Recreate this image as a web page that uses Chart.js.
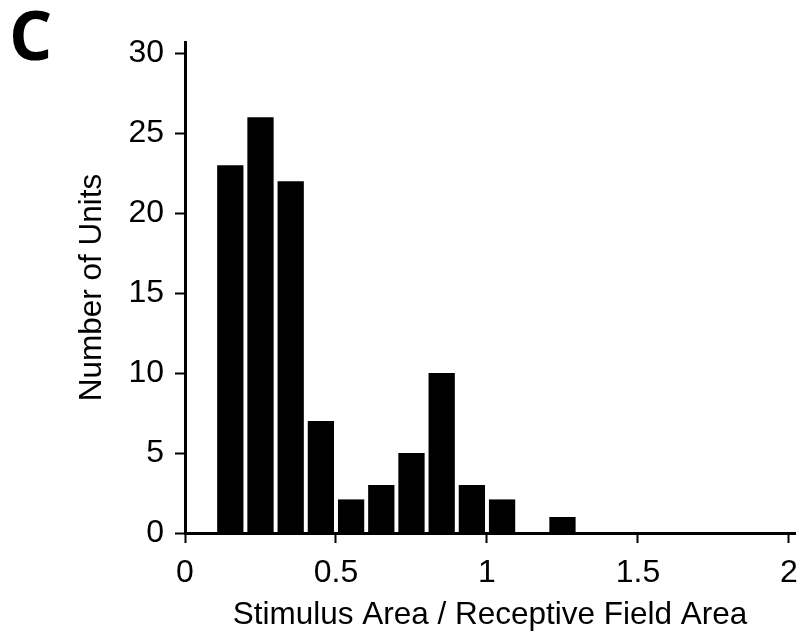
<!DOCTYPE html>
<html>
<head>
<meta charset="utf-8">
<script src="https://cdn.jsdelivr.net/npm/chart.js@4.4.0/dist/chart.umd.min.js"></script>
<style>
  html, body { margin: 0; padding: 0; background: #fff; }
  #wrap { width: 804px; height: 634px; }
</style>
</head>
<body>
<div id="wrap"><canvas id="histChart" width="804" height="634"></canvas></div>
<script>
// histogram bins (0.1 wide), centre of each bin
const binCenters = [0.15, 0.25, 0.35, 0.45, 0.55, 0.65, 0.75, 0.85, 0.95, 1.05,
                    1.15, 1.25, 1.35, 1.45, 1.55, 1.65, 1.75, 1.85, 1.95];
const unitCounts = [23, 26, 22, 7, 2.1, 3, 5, 10, 3, 2.1,
                    0, 1, 0, 0, 0, 0, 0, 0, 0];
const xTickValues = [0, 0.5, 1, 1.5, 2];
const yTickValues = [0, 5, 10, 15, 20, 25, 30];

const FONT = '"Liberation Sans", Arial, sans-serif';

const panelLetter = {
  id: 'panelLetter',
  afterDraw(chart) {
    const ctx = chart.ctx;
    ctx.save();
    ctx.font = 'bold 68px "Open Sans"';
    ctx.fillStyle = '#000';
    ctx.textBaseline = 'alphabetic';
    ctx.fillText('C', 9, 60);
    ctx.restore();
  }
};

const histCtx = document.getElementById('histChart');

const histChart = new Chart(histCtx, {
  type: 'bar',
  data: {
    datasets: [{
      data: binCenters.map((c, i) => ({ x: c, y: unitCounts[i] })),
      backgroundColor: '#000',
      borderWidth: 0,
      barPercentage: 0.87,
      categoryPercentage: 1.0,
    }],
  },
  plugins: [panelLetter],
  options: {
    responsive: false,
    animation: false,
    layout: { padding: { top: 42, right: 9, left: 0, bottom: 0 } },
    plugins: {
      legend: false,
      tooltip: { enabled: false },
    },
    scales: {
      x: {
        type: 'linear',
        min: 0,
        max: 2.02,
        offset: false,
        border: { color: '#000', width: 3 },
        grid: { offset: false, drawOnChartArea: false, tickLength: 10, tickWidth: 2, tickColor: '#000' },
        afterBuildTicks: s => { s.ticks = xTickValues.map(v => ({ value: v })); },
        ticks: {
          padding: 11, color: '#000', maxRotation: 0, autoSkip: false,
          font: { family: FONT, size: 32 },
          callback: v => String(v),
        },
        title: {
          display: true,
          text: 'Stimulus Area / Receptive Field Area',
          color: '#000',
          font: { family: FONT, size: 31.5, lineHeight: 1.2 },
          padding: { top: 0, bottom: 0 },
        },
        afterFit: s => { s.height = 101; s.paddingLeft = 0; s.paddingRight = 0; },
      },
      y: {
        min: 0,
        max: 30.7,
        border: { color: '#000', width: 3 },
        grid: { drawOnChartArea: false, tickLength: 10, tickWidth: 2, tickColor: '#000' },
        afterBuildTicks: s => { s.ticks = yTickValues.map(v => ({ value: v })); },
        ticks: { padding: 11, color: '#000', font: { family: FONT, size: 32 } },
        title: {
          display: true,
          text: 'Number of Units',
          color: '#000',
          font: { family: FONT, size: 31.5, lineHeight: 1.2 },
          padding: { top: 73, bottom: 0 },
        },
        afterFit: s => { s.width = 185; s.paddingTop = 0; s.paddingBottom = 0; },
      },
    },
  },
});
</script>
</body>
</html>
